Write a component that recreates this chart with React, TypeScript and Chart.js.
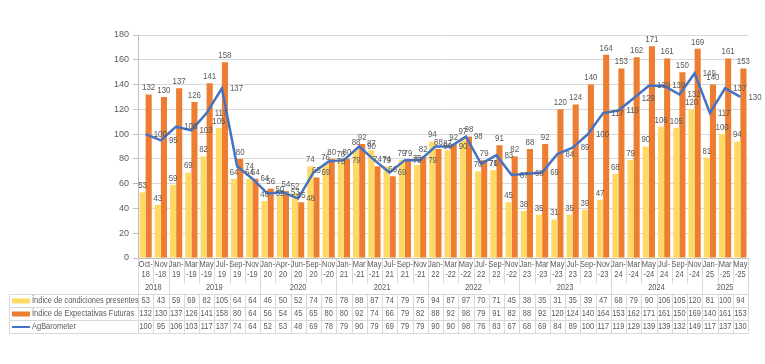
import React, { useEffect, useRef } from "react";
import { Chart, registerables } from "chart.js";

Chart.register(...registerables);

const categories = [
  "Oct-18", "Nov-18",
  "Jan-19", "Mar-19", "May-19", "Jul-19", "Sep-19", "Nov-19",
  "Jan-20", "Apr-20", "Jun-20", "Sep-20", "Nov-20",
  "Jan-21", "Mar-21", "May-21", "Jul-21", "Sep-21", "Nov-21",
  "Jan-22", "Mar-22", "May-22", "Jul-22", "Sep-22", "Nov-22",
  "Jan-23", "Mar-23", "May-23", "Jul-23", "Sep-23", "Nov-23",
  "Jan-24", "Mar-24", "May-24", "Jul-24", "Sep-24", "Nov-24",
  "Jan-25", "Mar-25", "May-25",
];

const years = ["2018", "2019", "2020", "2021", "2022", "2023", "2024", "2025"];
const yearCounts = [2, 6, 5, 6, 6, 6, 6, 3];

const presentes = [
  53, 43, 59, 69, 82, 105, 64, 64, 46, 50, 52, 74, 76, 78, 88, 87, 74, 79, 75,
  94, 87, 97, 70, 71, 45, 38, 35, 31, 35, 39, 47, 68, 79, 90, 106, 105, 120, 81,
  100, 94,
];
const expectativas = [
  132, 130, 137, 126, 141, 158, 80, 64, 56, 54, 45, 65, 80, 80, 92, 74, 66, 79,
  82, 88, 92, 98, 79, 91, 82, 88, 92, 120, 124, 140, 164, 153, 162, 171, 161,
  150, 169, 140, 161, 153,
];
const agbarometer = [
  100, 95, 106, 103, 117, 137, 74, 64, 52, 53, 48, 69, 78, 79, 90, 79, 69, 79,
  79, 90, 90, 98, 76, 83, 67, 68, 69, 84, 89, 100, 117, 119, 129, 139, 139, 132,
  149, 117, 137, 130,
];

const seriesNames = [
  "Índice de condiciones presentes",
  "Índice de Expectativas Futuras",
  "AgBarometer",
];

const Y_MIN = 0;
const Y_MAX = 180;
const Y_STEP = 20;

const COLORS = ["#FFD966", "#ED7D31", "#4472C4"];
const TEXT = "#595959";
const GRID = "#D9D9D9";
const FONT_FAMILY = '"Liberation Sans", Arial, sans-serif';
const FS = 9;
const SX = 0.83;

function splitLabel(c: string): [string, string] {
  const [m, y] = c.split("-");
  if (m === "Mar" || m === "May" || m === "Nov") return [m, "-" + y];
  return [m + "-", y];
}

function condText(ctx: CanvasRenderingContext2D, t: string, x: number, y: number) {
  ctx.save();
  ctx.translate(x, y);
  ctx.scale(SX, 1);
  ctx.fillText(t, 0, 0);
  ctx.restore();
}

const labelPlugin = {
  id: "valueLabels",
  afterDatasetsDraw(chart: any) {
    const ctx = chart.ctx;
    ctx.save();
    ctx.font = `${FS + 0.5}px ${FONT_FAMILY}`;
    ctx.fillStyle = TEXT;
    chart.data.datasets.forEach((ds: any, di: number) => {
      const meta = chart.getDatasetMeta(di);
      meta.data.forEach((el: any, i: number) => {
        const v = ds.data[i];
        if (ds.type === "line") {
          ctx.textAlign = "left";
          ctx.textBaseline = "middle";
          condText(ctx, String(v), el.x + 8, el.y);
        } else {
          ctx.textAlign = "center";
          ctx.textBaseline = "bottom";
          condText(ctx, String(v), el.x, el.y - 2);
        }
      });
    });
    ctx.restore();
  },
};

const tablePlugin = {
  id: "dataTable",
  afterDraw(chart: any) {
    const ctx = chart.ctx;
    const xs = chart.scales.x;
    const area = chart.chartArea;
    const n = categories.length;
    const colW = (area.right - area.left) / n;
    const top = area.bottom;
    const labBottom = top + 25;
    const yearBottom = top + 36;
    const rowH = 13;
    const tableLeft = 9;
    const rows = [presentes, expectativas, agbarometer];
    const tableBottom = yearBottom + rowH * rows.length;

    ctx.save();
    ctx.strokeStyle = GRID;
    ctx.lineWidth = 1;

    const line = (x1: number, y1: number, x2: number, y2: number) => {
      ctx.beginPath();
      ctx.moveTo(Math.round(x1) + 0.5, Math.round(y1) + 0.5);
      ctx.lineTo(Math.round(x2) + 0.5, Math.round(y2) + 0.5);
      ctx.stroke();
    };

    const yearBounds = new Set<number>();
    let acc = 0;
    yearBounds.add(0);
    yearCounts.forEach((c) => {
      acc += c;
      yearBounds.add(acc);
    });

    for (let i = 0; i <= n; i++) {
      const x = area.left + i * colW;
      const isYear = yearBounds.has(i);
      line(x, top, x, isYear ? tableBottom : labBottom);
      if (!isYear) line(x, yearBottom, x, tableBottom);
    }
    for (let r = 0; r <= rows.length; r++) {
      const y = yearBottom + r * rowH;
      line(tableLeft, y, area.right, y);
    }
    line(tableLeft, yearBottom, tableLeft, tableBottom);

    ctx.fillStyle = TEXT;
    ctx.font = `${FS}px ${FONT_FAMILY}`;
    ctx.textAlign = "center";
    ctx.textBaseline = "middle";

    categories.forEach((c, i) => {
      const cx = xs.getPixelForValue(i);
      const [a, b] = splitLabel(c);
      condText(ctx, a, cx, top + 7);
      condText(ctx, b, cx, top + 17);
    });

    acc = 0;
    years.forEach((y, k) => {
      const start = acc;
      acc += yearCounts[k];
      const cx = area.left + ((start + acc) / 2) * colW;
      condText(ctx, y, cx, top + 30);
    });

    rows.forEach((row, r) => {
      const cy = yearBottom + r * rowH + rowH / 2 + 0.5;
      row.forEach((v, i) => {
        condText(ctx, String(v), xs.getPixelForValue(i), cy);
      });
    });

    ctx.textAlign = "left";
    seriesNames.forEach((name, r) => {
      const cy = yearBottom + r * rowH + rowH / 2 + 0.5;
      if (r < 2) {
        ctx.fillStyle = COLORS[r];
        ctx.fillRect(12, cy - 2.5, 18, 5);
      } else {
        ctx.strokeStyle = COLORS[r];
        ctx.lineWidth = 2;
        ctx.beginPath();
        ctx.moveTo(12, cy);
        ctx.lineTo(30, cy);
        ctx.stroke();
      }
      ctx.fillStyle = TEXT;
      condText(ctx, name, 32, cy);
    });

    ctx.restore();
  },
};

export default function App() {
  const ref = useRef<HTMLCanvasElement | null>(null);

  useEffect(() => {
    if (!ref.current) return;
    const chart = new Chart(ref.current, {
      type: "bar",
      data: {
        labels: categories,
        datasets: [
          {
            type: "bar",
            label: seriesNames[0],
            data: presentes,
            backgroundColor: COLORS[0],
            categoryPercentage: 0.8,
            barPercentage: 1.0,
            order: 1,
          },
          {
            type: "bar",
            label: seriesNames[1],
            data: expectativas,
            backgroundColor: COLORS[1],
            categoryPercentage: 0.8,
            barPercentage: 1.0,
            order: 1,
          },
          {
            type: "line",
            label: seriesNames[2],
            data: agbarometer,
            borderColor: COLORS[2],
            backgroundColor: COLORS[2],
            borderWidth: 2.5,
            pointRadius: 0,
            tension: 0,
            order: 0,
          } as any,
        ],
      },
      options: {
        responsive: false,
        animation: false,
        devicePixelRatio: 1,
        layout: { padding: { left: 0, right: 17, top: 35, bottom: 106 } },
        plugins: {
          legend: { display: false },
          tooltip: { enabled: false },
          title: { display: false },
        },
        scales: {
          x: {
            ticks: { display: false },
            grid: { display: false },
            border: { display: true, color: "#BFBFBF" },
            afterFit: (s: any) => {
              s.height = 0;
            },
          },
          y: {
            min: Y_MIN,
            max: Y_MAX,
            ticks: {
              stepSize: Y_STEP,
              color: TEXT,
              font: { family: FONT_FAMILY, size: 9 },
              padding: 4,
            },
            grid: {
              color: GRID,
              tickColor: "#BFBFBF",
              tickLength: 5,
              drawTicks: true,
            },
            border: { display: true, color: "#BFBFBF" },
            afterFit: (s: any) => {
              s.width = 138;
            },
          },
        },
      },
      plugins: [labelPlugin, tablePlugin],
    });
    return () => chart.destroy();
  }, []);

  return (
    <div style={{ position: "fixed", left: 0, top: 0, width: 765, height: 364, background: "#fff" }}>
      <canvas ref={ref} width={765} height={364} style={{ width: 765, height: 364 }} />
    </div>
  );
}
